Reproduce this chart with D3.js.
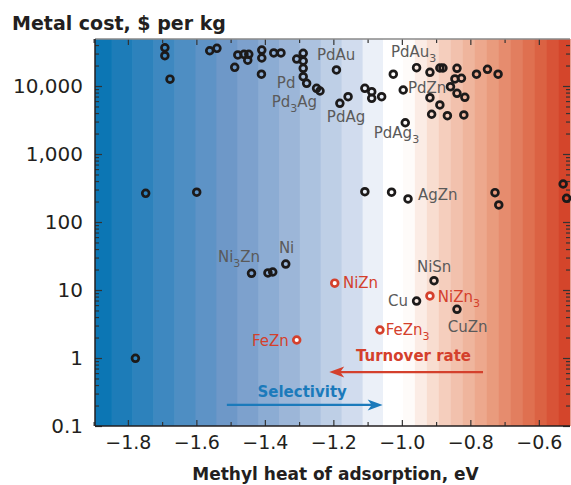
<html>
<head>
  <meta charset="utf-8">
  <script src="https://d3js.org/d3.v7.min.js"></script>
  <style>
    body { margin: 0; background: #fff; }
    text { font-family: "DejaVu Sans", sans-serif; }
    .tickLbl { font-size: 19px; fill: #231f20; }
    .yLbl { font-size: 20px; fill: #231f20; }
    .cTitle { font-size: 19px; font-weight: bold; fill: #231f20; }
    .axisTitle { font-size: 17px; font-weight: bold; fill: #231f20; }
    .alloy { font-size: 15px; }
  </style>
</head>
<body>
  <svg id="chart" width="571" height="485"></svg>
  <script>
    // methyl heat of adsorption (eV) vs metal cost ($ per kg)
    const heatBlack = [-1.692, -1.692, -1.677, -1.561, -1.540, -1.479, -1.461, -1.447, -1.450, -1.488,
      -1.409, -1.409, -1.410, -1.374, -1.353, -1.307, -1.288, -1.288, -1.288, -1.288,
      -1.278, -1.249, -1.239, -1.191, -1.181, -1.157, -1.108, -1.088, -1.088, -1.059,
      -1.025, -0.996, -0.990, -0.957, -0.918, -0.889, -0.880, -0.839, -0.845, -0.826,
      -0.858, -0.839, -0.816, -0.782, -0.750, -0.719, -0.918, -0.889, -0.913, -0.867,
      -0.819,
      -1.748, -1.599, -1.108, -1.030, -0.982, -0.728, -0.717, -0.529, -0.519,
      -1.439, -1.391, -1.377, -1.339, -0.906, -0.957, -0.839, -1.778];
    const costBlack = [36500, 27900, 12600, 33000, 35800, 28600, 29200, 29200, 23900, 18800,
      33800, 25800, 14900, 30600, 30600, 24900, 30300, 23300, 18200, 13700,
      10950, 9250, 8440, 17200, 5570, 6960, 9250, 8250, 6590, 6960,
      14900, 8730, 2880, 18600, 15900, 18400, 18400, 18200, 12700, 13000,
      9770, 7810, 6820, 14900, 17600, 14900, 6730, 5260, 3840, 3660,
      3750,
      264, 274, 279, 274, 218, 270, 178, 362, 223,
      17.6, 17.8, 18.4, 24.1, 13.7, 6.88, 5.2, 0.99];

    // highlighted (red) alloys: NiZn, NiZn3, FeZn3, FeZn
    const heatRed = [-1.196, -0.918, -1.064, -1.307];
    const costRed = [12.6, 8.17, 2.58, 1.84];

    // labels ("_3" = subscript 3), placed at heat / cost of the text's left edge and mid height
    const labelText = ["PdAu", "PdAu_3", "Pd", "Pd_3Ag", "PdAg", "PdAg_3", "PdZn", "AgZn", "Ni_3Zn", "Ni",
      "NiSn", "Cu", "CuZn", "NiZn", "NiZn_3", "FeZn_3", "FeZn"];
    const labelHeat = [-1.248, -1.032, -1.365, -1.380, -1.219, -1.082, -0.982, -0.953, -1.537, -1.359,
      -0.956, -0.982, -0.866, -1.172, -0.895, -1.047, -1.330];
    const labelCost = [28600, 31600, 11070, 5820, 3500, 2040, 9350, 250, 30.5, 41.5,
      21.8, 6.88, 2.86, 12.7, 7.9, 2.58, 1.78];
    const labelRed = [0, 0, 0, 0, 0, 0, 0, 0, 0, 0, 0, 0, 0, 1, 1, 1, 1];
    const labelEnd = [0, 0, 0, 0, 0, 0, 0, 0, 0, 0, 0, 1, 0, 0, 0, 0, 1];

    const xTicks = [-1.8, -1.6, -1.4, -1.2, -1.0, -0.8, -0.6];
    const xMinor = [-1.9, -1.7, -1.5, -1.3, -1.1, -0.9, -0.7];
    const yTicks = [0.1, 1, 10, 100, 1000, 10000];
    const yTickLabels = ["0.1", "1", "10", "100", "1,000", "10,000"];

    let svg = d3.select("svg#chart");
    let margins = { "left": 95, "right": 1, "top": 39, "bottom": 59 };
    let w = +svg.attr("width");
    let h = +svg.attr("height");
    let x0 = margins.left, x1 = w - margins.right;
    let y0 = margins.top, y1 = h - margins.bottom;

    let xScale = d3.scaleLinear([-1.896, -0.509], [x0, x1]);
    let yScale = d3.scaleLog([0.1, 49100], [y1, y0]);

    // background bands: blue to white to red
    let bandColor = d3.scaleLinear(
      [-1.9, -1.7, -1.5, -1.3, -1.15, -1.04, -0.99, -0.88, -0.75, -0.63, -0.5],
      ["#0674b3", "#3d88c0", "#7199c9", "#a3bbdb", "#cfdbed", "#ffffff", "#ffffff", "#f5d0bf", "#eba184", "#df7050", "#d23b22"]);
    let bands = [];
    let e = -1.055;
    while (e > -1.91) { bands.push([e - 0.061, e]); e -= 0.061; }
    bands.push([-1.055, -0.997]);
    e = -0.997;
    while (e < -0.5) { bands.push([e, e + 0.035]); e += 0.035; }

    let bg = svg.append("g");
    bg.selectAll("rect").data(bands)
      .join("rect")
      .attr("x", d => Math.max(x0, xScale(d[0])))
      .attr("width", d => Math.min(x1, xScale(d[1])) - Math.max(x0, xScale(d[0])) + 0.5)
      .attr("y", y0)
      .attr("height", y1 - y0)
      .attr("fill", d => bandColor((d[0] + d[1]) / 2));

    // axes, ticks pointing inward
    let tickColor = "#333";
    function styleAxis(g) {
      g.select(".domain").remove();
      g.selectAll(".tick line").attr("stroke", tickColor).attr("stroke-width", 1.2);
    }
    svg.append("g").attr("transform", `translate(0,${y1})`)
      .call(d3.axisBottom(xScale).tickValues(xTicks).tickSize(-6).tickPadding(10).tickFormat(d3.format(".1f")))
      .call(styleAxis)
      .selectAll("text").attr("class", "tickLbl").attr("font-size", null).attr("font-family", null);
    svg.append("g").attr("transform", `translate(0,${y1})`)
      .call(d3.axisBottom(xScale).tickValues(xMinor).tickSize(-4).tickFormat(""))
      .call(styleAxis);
    svg.append("g").attr("transform", `translate(0,${y0})`)
      .call(d3.axisTop(xScale).tickValues(xTicks).tickSize(-6).tickFormat(""))
      .call(styleAxis);
    svg.append("g").attr("transform", `translate(0,${y0})`)
      .call(d3.axisTop(xScale).tickValues(xMinor).tickSize(-4).tickFormat(""))
      .call(styleAxis);

    let yMinor = [];
    yTicks.forEach(t => { for (let k = 2; k <= 9; k++) if (t * k < 49100) yMinor.push(t * k); });

    svg.append("g").attr("transform", `translate(${x0},0)`)
      .call(d3.axisLeft(yScale).tickValues(yTicks).tickSize(-7).tickPadding(12).tickFormat((d, i) => yTickLabels[i]))
      .call(styleAxis)
      .selectAll("text").attr("class", "yLbl").attr("font-size", null).attr("font-family", null);
    svg.append("g").attr("transform", `translate(${x0},0)`)
      .call(d3.axisLeft(yScale).tickValues(yMinor).tickSize(-4).tickFormat(""))
      .call(styleAxis);
    svg.append("g").attr("transform", `translate(${x1},0)`)
      .call(d3.axisRight(yScale).tickValues(yTicks).tickSize(-7).tickFormat(""))
      .call(styleAxis);
    svg.append("g").attr("transform", `translate(${x1},0)`)
      .call(d3.axisRight(yScale).tickValues(yMinor).tickSize(-4).tickFormat(""))
      .call(styleAxis);

    // frame
    svg.append("line").attr("x1", x0).attr("x2", x1).attr("y1", y0).attr("y2", y0)
      .attr("stroke", "#8a8a8a").attr("stroke-width", 1.5);
    svg.append("line").attr("x1", x0).attr("x2", x0).attr("y1", y0).attr("y2", y1)
      .attr("stroke", "#231f20").attr("stroke-width", 1.5);
    svg.append("line").attr("x1", x0).attr("x2", x1).attr("y1", y1).attr("y2", y1)
      .attr("stroke", "#231f20").attr("stroke-width", 1.5);

    // labels
    let redColor = "#d4402c";
    let blueColor = "#1b7abb";
    labelText.forEach((t, i) => {
      let txt = svg.append("text")
        .attr("class", "alloy")
        .attr("x", xScale(labelHeat[i]))
        .attr("y", yScale(labelCost[i]))
        .attr("dy", "0.36em")
        .attr("text-anchor", labelEnd[i] ? "end" : "start")
        .attr("fill", labelRed[i] ? redColor : "#5a5a5a");
      let parts = t.split("_");
      txt.append("tspan").text(parts[0]);
      for (let p = 1; p < parts.length; p++) {
        txt.append("tspan").attr("dy", 5).attr("font-size", 11).text(parts[p][0]);
        if (parts[p].length > 1) txt.append("tspan").attr("dy", -5).text(parts[p].slice(1));
      }
    });

    // points
    let pts = d3.zip(heatBlack, costBlack);
    svg.append("g").selectAll("circle").data(pts)
      .join("circle")
      .attr("cx", d => xScale(d[0]))
      .attr("cy", d => yScale(d[1]))
      .attr("r", 3.4)
      .attr("fill", "none")
      .attr("stroke", "#1c1a1a")
      .attr("stroke-width", 2.7);
    svg.append("g").selectAll("circle").data(d3.zip(heatRed, costRed))
      .join("circle")
      .attr("cx", d => xScale(d[0]))
      .attr("cy", d => yScale(d[1]))
      .attr("r", 3.4)
      .attr("fill", "#fff")
      .attr("stroke", redColor)
      .attr("stroke-width", 2.7);

    // arrows
    function arrow(fromX, toX, cost, color) {
      let ax = xScale(fromX), bx = xScale(toX), yy = yScale(cost);
      let dir = bx > ax ? 1 : -1;
      svg.append("line").attr("x1", ax).attr("x2", bx - dir * 10).attr("y1", yy).attr("y2", yy)
        .attr("stroke", color).attr("stroke-width", 2.2);
      svg.append("path")
        .attr("d", `M${bx},${yy} L${bx - dir * 15},${yy - 5.5} L${bx - dir * 11},${yy} L${bx - dir * 15},${yy + 5.5} Z`)
        .attr("fill", color);
    }
    arrow(-0.763, -1.212, 0.62, redColor);
    arrow(-1.511, -1.056, 0.204, blueColor);

    svg.append("text").text("Turnover rate")
      .attr("x", xScale(-0.966)).attr("y", yScale(1.07)).attr("dy", "0.36em")
      .style("text-anchor", "middle").attr("font-size", 15).attr("font-weight", "bold").attr("fill", redColor);
    svg.append("text").text("Selectivity")
      .attr("x", xScale(-1.291)).attr("y", yScale(0.316)).attr("dy", "0.36em")
      .style("text-anchor", "middle").attr("font-size", 15).attr("font-weight", "bold").attr("fill", blueColor);

    // titles
    svg.append("text").attr("class", "cTitle").text("Metal cost, $ per kg")
      .attr("x", 12).attr("y", 30);
    svg.append("text").attr("class", "axisTitle").text("Methyl heat of adsorption, eV")
      .style("text-anchor", "middle")
      .attr("x", (x0 + x1) / 2 + 3).attr("y", 480);
  </script>
</body>
</html>
